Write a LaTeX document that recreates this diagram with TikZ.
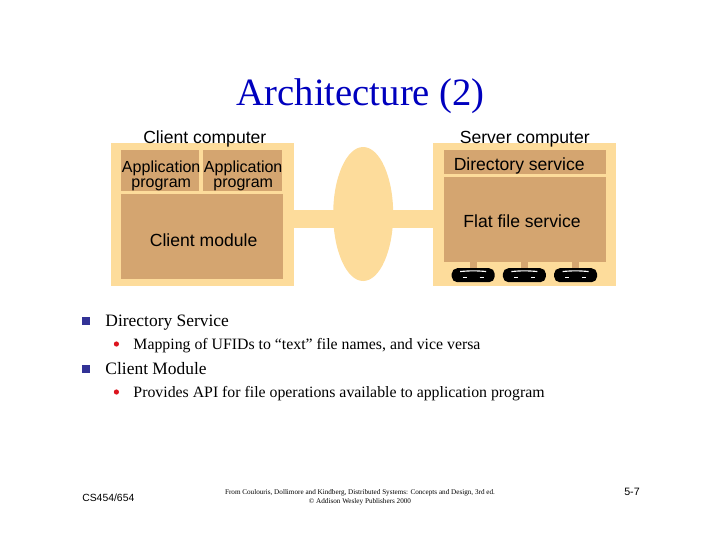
\documentclass[tikz,border=0pt]{standalone}
\usepackage{xcolor}
\usepackage{fontspec}
\setmainfont{Liberation Serif}
\setsansfont{Liberation Sans}
\usepackage{tikz}
\usetikzlibrary{shapes.geometric,calc,positioning}
\definecolor{paleorange}{RGB}{253,220,155}
\definecolor{darktan}{RGB}{212,165,112}
\definecolor{titleblue}{RGB}{0,0,190}
\definecolor{squareblue}{RGB}{50,50,150}
\definecolor{dotred}{RGB}{220,20,30}

\begin{document}
\begin{tikzpicture}[
  font=\sffamily\fontsize{12.5}{13}\selectfont,
  outerbox/.style={fill=paleorange,minimum width=4.575cm,minimum height=3.575cm},
  innerbox/.style={fill=darktan,inner sep=0pt},
  caption/.style={inner sep=0pt},
  applabel/.style={inner sep=0pt,align=center,font=\sffamily\fontsize{11.4}{10.8}\selectfont},
  linkbar/.style={paleorange,line width=0.45cm},
  stem/.style={darktan,line width=0.17cm},
  disk/.style={fill=black,rounded corners=4pt,minimum width=1.075cm,minimum height=0.35cm,inner sep=0pt},
  level1/.style={anchor=west,inner sep=0pt,font=\rmfamily\fontsize{12.4}{14}\selectfont},
  level2/.style={anchor=west,inner sep=0pt,font=\rmfamily\fontsize{11.25}{13}\selectfont},
  square/.style={fill=squareblue,minimum size=0.2cm,inner sep=0pt},
  dot/.style={circle,fill=dotred,minimum size=0.13cm,inner sep=0pt},
]
\useasboundingbox (0,0) rectangle (18,-13.5);

\node[inner sep=0pt,text=titleblue,font=\rmfamily\fontsize{27.5}{29}\selectfont] (title) at (9.02,-2.41) {Architecture (2)};

% client side
\node[outerbox] (client) at (5.05,-5.37) {};
\node[innerbox,minimum width=1.96cm,minimum height=1.03cm] (appa) at (4.0,-4.27) {};
\node[innerbox,minimum width=1.98cm,minimum height=1.03cm] (appb) at (6.07,-4.27) {};
\node[innerbox,minimum width=4.05cm,minimum height=2.12cm] (cmod) at (5.04,-5.92) {};
\node[applabel] (appalabel) at (4.03,-4.4) {Application\\program};
\node[applabel] (appblabel) at (6.08,-4.4) {Application\\program};
\node[caption] (cmodlabel) at (5.09,-6.0) {Client module};
\node[caption,above=-0.1cm of client,xshift=0.07cm] (clientcap) {Client computer};

% network
\node[ellipse,fill=paleorange,minimum width=1.5cm,minimum height=3.35cm,inner sep=0pt] (net) at (9.08,-5.35) {};
\coordinate (linky) at (9.08,-5.47);

% server side
\node[outerbox] (server) at (13.12,-5.37) {};
\node[innerbox,minimum width=4.05cm,minimum height=0.6cm] (dirsrv) at (13.12,-4.05) {};
\node[innerbox,minimum width=4.05cm,minimum height=2.12cm] (flat) at (13.12,-5.49) {};
\node[caption] (dirlabel) at (12.98,-4.15) {Directory service};
\node[caption] (flatlabel) at (13.05,-5.52) {Flat file service};
\node[caption,above=-0.1cm of server] (servercap) {Server computer};

\node[disk] (diska) at (11.83,-6.88) {};
\node[disk] (diskb) at (13.11,-6.88) {};
\node[disk] (diskc) at (14.39,-6.88) {};

\draw[linkbar] (client.east |- linky) -- (net.center |- linky);
\draw[linkbar] (net.center |- linky) -- (server.west |- linky);

\foreach \d in {diska,diskb,diskc} {
  \draw[stem] (flat.south -| \d) -- (\d.north);
  \draw[white,line width=0.8pt] ($(\d.north west)+(0.22,-0.09)$) to[bend left=5] ($(\d.north east)+(-0.22,-0.09)$);
  \draw[white,line width=0.4pt] ($(\d.center)+(-0.26,-0.05)$) -- ++(0.1,0);
  \draw[white,line width=0.4pt] ($(\d.center)+(0.16,-0.05)$) -- ++(0.1,0);
}

% bullets
\node[square] (sqa) at (2.15,-8.02) {};
\node[level1] (dirhead) at (2.63,-8.07) {Directory Service};
\node[dot] (dota) at (2.91,-8.6) {};
\node[level2] (dirtext) at (3.33,-8.64) {Mapping of UFIDs to “text” file names, and vice versa};
\node[square] (sqb) at (2.15,-9.22) {};
\node[level1] (cmhead) at (2.63,-9.22) {Client Module};
\node[dot] (dotb) at (2.91,-9.8) {};
\node[level2] (cmtext) at (3.33,-9.85) {Provides API for file operations available to application program};

% footer
\node[inner sep=0pt,anchor=west,font=\sffamily\fontsize{7.4}{9}\selectfont] (course) at (2.05,-12.45) {CS454/654};
\node[inner sep=0pt,align=center,font=\rmfamily\fontsize{5.1}{6.3}\selectfont] (source) at (9,-12.43) {From Coulouris, Dollimore and Kindberg, Distributed Systems: Concepts and Design, 3rd ed.\\© Addison Wesley Publishers 2000};
\node[inner sep=0pt,anchor=east,font=\sffamily\fontsize{7.6}{9}\selectfont] (pagenum) at (16,-12.3) {5-7};
\end{tikzpicture}
\end{document}
